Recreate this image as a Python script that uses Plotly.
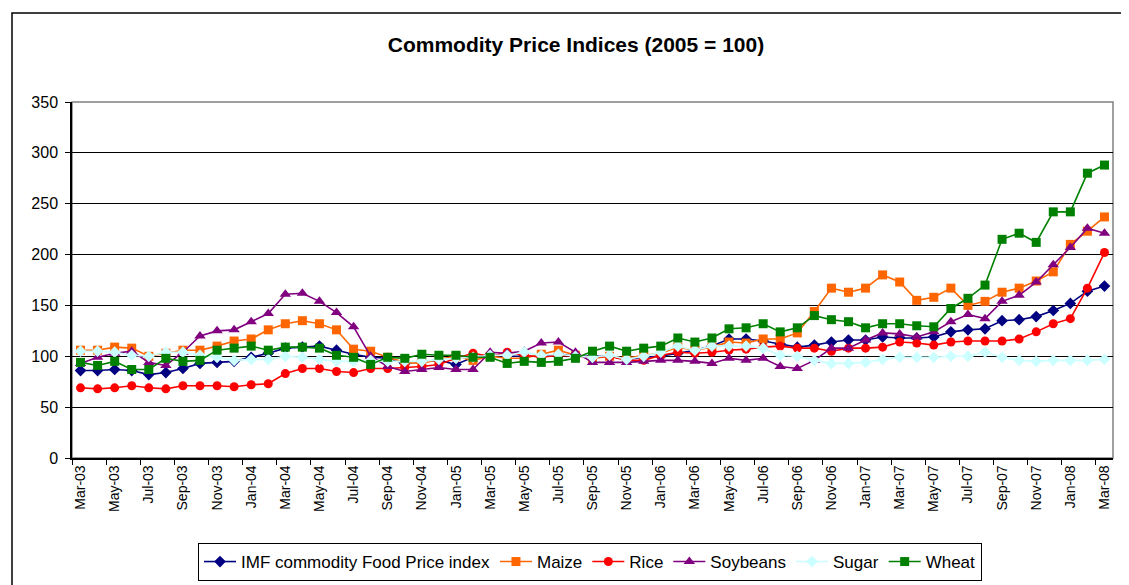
import plotly.graph_objects as go

months = [
    "Mar-03", "Apr-03", "May-03", "Jun-03", "Jul-03", "Aug-03", "Sep-03", "Oct-03", "Nov-03", "Dec-03",
    "Jan-04", "Feb-04", "Mar-04", "Apr-04", "May-04", "Jun-04", "Jul-04", "Aug-04", "Sep-04", "Oct-04",
    "Nov-04", "Dec-04", "Jan-05", "Feb-05", "Mar-05", "Apr-05", "May-05", "Jun-05", "Jul-05", "Aug-05",
    "Sep-05", "Oct-05", "Nov-05", "Dec-05", "Jan-06", "Feb-06", "Mar-06", "Apr-06", "May-06", "Jun-06",
    "Jul-06", "Aug-06", "Sep-06", "Oct-06", "Nov-06", "Dec-06", "Jan-07", "Feb-07", "Mar-07", "Apr-07",
    "May-07", "Jun-07", "Jul-07", "Aug-07", "Sep-07", "Oct-07", "Nov-07", "Dec-07", "Jan-08", "Feb-08",
    "Mar-08",
]

imf_food = [86, 86, 87, 86, 82, 84, 88, 93, 94, 95,
            99, 103, 108, 109, 110, 106, 102, 99, 98, 93,
            95, 96, 92, 99, 101, 100, 100, 100, 102, 100,
            100, 100, 97, 99, 100, 103, 106, 110, 117, 117,
            115, 112, 109, 111, 114, 116, 116, 119, 118, 118,
            119, 124, 126, 127, 135, 136, 139, 145, 152, 164,
            169]

maize = [106, 106, 109, 108, 100, 103, 106, 106, 110, 115,
         117, 126, 132, 135, 132, 126, 107, 105, 99, 94,
         93, 97, 100, 96, 100, 98, 98, 102, 106, 101,
         98, 100, 98, 101, 103, 109, 106, 109, 114, 113,
         117, 117, 123, 144, 167, 163, 167, 180, 173, 155,
         158, 167, 150, 154, 163, 167, 174, 183, 210, 223,
         237]

rice = [69, 68, 69, 71, 69, 68, 71, 71, 71, 70,
        72, 73, 83, 88, 88, 85, 84, 88, 88, 89,
        90, 92, 98, 103, 100, 104, 101, 99, 101, 100,
        99, 100, 96, 96, 101, 104, 103, 104, 106, 107,
        109, 110, 108, 108, 105, 108, 108, 109, 114, 113,
        111, 114, 115, 115, 115, 117, 124, 132, 137, 167,
        202]

soybeans = [93, 99, 103, 105, 94, 91, 104, 120, 125, 126,
            134, 142, 161, 162, 154, 143, 129, 100, 90, 85,
            87, 89, 87, 87, 104, 103, 105, 113, 114, 104,
            94, 94, 94, 95, 96, 96, 95, 93, 98, 96,
            98, 90, 88, 96, 108, 108, 116, 123, 122, 119,
            124, 134, 141, 137, 154, 160, 173, 190, 207, 226,
            221]

sugar = [105, 105, 104, 101, 100, 104, 104, 101, 99, 96,
         97, 97, 100, 99, 97, 95, 95, 96, 95, 95,
         95, 97, 98, 99, 101, 101, 104, 101, 102, 100,
         99, 101, 97, 100, 104, 110, 106, 110, 110, 110,
         108, 101, 100, 96, 93, 93, 94, 97, 99, 99,
         99, 100, 100, 104, 99, 96, 95, 96, 96, 96,
         97]

wheat = [94, 91, 95, 87, 87, 98, 95, 96, 106, 108,
         110, 106, 109, 109, 108, 101, 99, 92, 99, 98,
         102, 101, 101, 99, 99, 93, 95, 94, 95, 98,
         105, 110, 105, 108, 110, 118, 114, 118, 127, 128,
         132, 124, 128, 140, 136, 134, 128, 132, 132, 130,
         129, 147, 157, 170, 215, 221, 212, 242, 242, 280,
         288]

series = [
    ("IMF commodity Food Price index", imf_food, "#000080", "diamond", 9),
    ("Maize", maize, "#FF6600", "square", 9),
    ("Rice", rice, "#FF0000", "circle", 9),
    ("Soybeans", soybeans, "#800080", "triangle-up", 10),
    ("Sugar", sugar, "#CCFFFF", "diamond", 9),
    ("Wheat", wheat, "#008000", "square", 9),
]

FONT = "Liberation Sans, Arial, sans-serif"

fig = go.Figure()
for name, vals, color, symbol, size in series:
    fig.add_trace(go.Scatter(
        x=months, y=vals, name=name, mode="lines+markers",
        line=dict(color=color, width=1.6),
        marker=dict(color=color, symbol=symbol, size=size, line=dict(width=0)),
    ))

# page body has an 8px margin, so the figure is drawn 8px shifted
OFF = 8
W, H = 1129 - OFF, 585 - OFF
L, R = 72 - OFF, 16
T = 102 - OFF
B = H - (458 - OFF)
pw, ph = W - L - R, H - T - B

def px_x(p):
    return (p - OFF - L) / pw

def px_y(p):
    return (H - B - (p - OFF)) / ph

fig.update_layout(
    width=W, height=H,
    margin=dict(l=L, r=R, t=T, b=B, autoexpand=False),
    paper_bgcolor="white", plot_bgcolor="white",
    font=dict(family=FONT, color="black", size=15),
    title=dict(text="<b>Commodity Price Indices (2005 = 100)</b>",
               x=px_x(576), xanchor="center", xref="paper",
               y=1 - (45 - OFF) / H, yanchor="middle",
               font=dict(size=21, family=FONT, color="black")),
    showlegend=True,
    legend=dict(orientation="h", x=px_x(590), xanchor="center",
                y=px_y(543), yanchor="top",
                bordercolor="black", borderwidth=1, bgcolor="white",
                font=dict(size=17, family=FONT), itemwidth=32,
                tracegroupgap=0),
    xaxis=dict(type="category", tickmode="linear", tick0=0, dtick=2,
               tickson="boundaries", ticks="outside", ticklen=5,
               tickcolor="black", tickangle=-90, showgrid=False,
               showline=True, linecolor="black", linewidth=1.5,
               range=[-0.5, len(months) - 0.5],
               tickfont=dict(size=14, family=FONT), zeroline=False),
    yaxis=dict(range=[0, 350], dtick=50, ticks="outside", ticklen=5,
               tickcolor="black", showgrid=True, gridcolor="black",
               gridwidth=1, showline=True, linecolor="black", linewidth=1.5,
               zeroline=False, ticklabelstandoff=4,
               tickfont=dict(size=16, family=FONT)),
    shapes=[
        dict(type="rect", xref="paper", yref="paper", x0=0, x1=1, y0=0, y1=1,
             line=dict(color="#808080", width=1.5), layer="below"),
        dict(type="rect", xref="paper", yref="paper",
             x0=px_x(12), x1=px_x(1140), y0=px_y(13), y1=px_y(600),
             line=dict(color="black", width=1.5), layer="below"),
    ],
)

fig.write_html("out.html")
